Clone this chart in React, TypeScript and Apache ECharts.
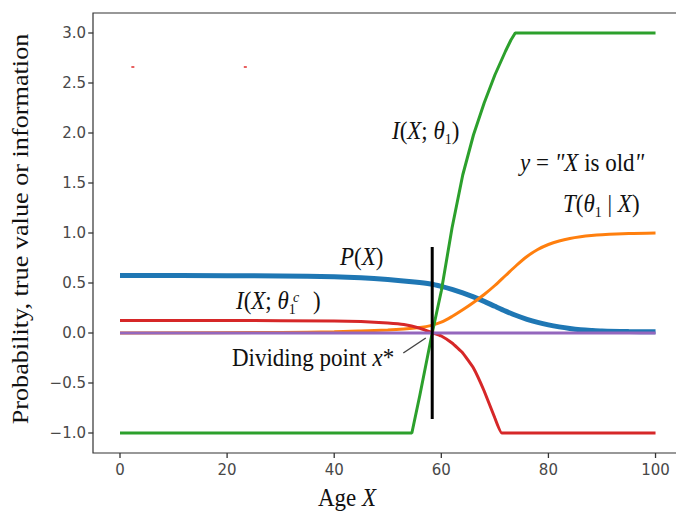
import React, { useEffect, useRef } from "react";
import * as echarts from "echarts";

// ---- data ----
const xTicks = [0, 20, 40, 60, 80, 100];
const yTicks = [-1, -0.5, 0, 0.5, 1, 1.5, 2, 2.5, 3];
const xTickStep = 20;
const yTickStep = 0.5;

// P(X)  (blue)
const pAges = [0, 20, 30, 40, 45, 50, 55, 58, 60, 62, 64, 66, 68, 70, 72, 74, 76, 78, 80, 82, 84, 86, 88, 90, 95, 100];
const pValues = [0.575, 0.573, 0.57, 0.563, 0.553, 0.535, 0.51, 0.49, 0.466, 0.436, 0.401, 0.361, 0.316, 0.267, 0.219, 0.175, 0.137, 0.106, 0.081, 0.061, 0.045, 0.033, 0.025, 0.019, 0.014, 0.012];

// T(theta1 | X)  (orange)
const tAges = [0, 30, 40, 45, 50, 53, 56, 58, 60, 62, 64, 66, 68, 70, 72, 74, 76, 78, 80, 82, 84, 86, 88, 90, 95, 100];
const tValues = [0.0, 0.005, 0.012, 0.02, 0.03, 0.04, 0.056, 0.074, 0.108, 0.165, 0.232, 0.305, 0.385, 0.475, 0.575, 0.675, 0.765, 0.835, 0.885, 0.92, 0.945, 0.962, 0.974, 0.982, 0.994, 1.0];

// I(X; theta1)  (green)
const iAges = [0, 54.5, 56, 58.3, 60, 62, 64, 66, 68, 70, 72, 73, 73.8, 100];
const iValues = [-1, -1, -0.62, 0, 0.42, 1.05, 1.58, 1.98, 2.3, 2.58, 2.82, 2.93, 3.0, 3.0];

// I(X; theta1^c)  (red)
const icAges = [0, 20, 40, 45, 50, 53, 56, 58.5, 60, 62, 64, 66, 68, 70, 71.3, 100];
const icValues = [0.125, 0.125, 0.12, 0.115, 0.1, 0.085, 0.048, 0.0, -0.03, -0.1, -0.2, -0.35, -0.58, -0.85, -1.0, -1.0];

// zero line (purple)
const zeroAges = [0, 100];
const zeroValues = [0, 0];

// dividing point x*
const dividerAges = [58.3, 58.3];
const dividerValues = [-0.86, 0.86];
const leaderAges = [52.9, 57.1];
const leaderValues = [-0.2, -0.05];

// stray red marks
const strayAges = [2.4, 23.4];
const strayValues = [2.66, 2.66];

// frame limits (matplotlib-style margins around the data)
const frameXMin = -5;
const frameYMin = -1.2;

const zip = (xs: number[], ys: number[]) => xs.map((x, i) => [x, ys[i]]);

const SERIF = "'Liberation Serif', 'Times New Roman', serif";
const FS = 23;
const STRETCH = 1.1;
const TICK_LEN = 5;

const richStyles = {
  i: { fontFamily: SERIF, fontSize: FS, fontStyle: "italic", fill: "#111", lineHeight: 30 },
  n: { fontFamily: SERIF, fontSize: FS, fill: "#111", lineHeight: 30 },
  s: { fontFamily: SERIF, fontSize: 14, fill: "#111", lineHeight: 12, verticalAlign: "bottom" },
};

function richText(id: string, x: number, y: number, text: string, extra: any = {}) {
  return {
    type: "text",
    id,
    x,
    y,
    scaleY: STRETCH,
    z: 100,
    style: {
      text,
      rich: richStyles,
      fill: "#111",
      font: `${FS}px ${SERIF}`,
      textAlign: "left",
      textVerticalAlign: "middle",
      ...extra,
    },
  };
}

const tickFont = {
  fontFamily: "'DejaVu Sans', sans-serif",
  fontSize: 15,
  color: "#484848",
};

export default function App() {
  const ref = useRef<HTMLDivElement>(null);

  useEffect(() => {
    if (!ref.current) return;
    const chart = echarts.init(ref.current, undefined, { renderer: "svg" });

    const lineBase = { type: "line", showSymbol: false, clip: false };

    const option: any = {
      animation: false,
      backgroundColor: "#fff",
      grid: {
        left: 120,
        top: 33,
        width: 562.3,
        height: 400,
        outerBoundsMode: "none",
        containLabel: false,
      },
      xAxis: {
        type: "value",
        min: 0,
        max: 105,
        interval: xTickStep,
        offset: 20,
        splitLine: { show: false },
        axisLine: { show: false, onZero: false },
        axisTick: { show: false },
        axisLabel: {
          ...tickFont,
          showMaxLabel: false,
          formatter: (v: number) => (v % xTickStep === 0 ? String(v) : ""),
          margin: 9,
        },
      },
      yAxis: {
        type: "value",
        min: -1,
        max: 3,
        interval: yTickStep,
        offset: 27,
        splitLine: { show: false },
        axisLine: { show: false, onZero: false },
        axisTick: { show: false },
        axisLabel: {
          ...tickFont,
          formatter: (v: number) => (v < 0 ? "\u2212" : "") + Math.abs(v).toFixed(1),
          margin: 7,
        },
      },
      series: [
        {
          ...lineBase,
          name: "P(X)",
          data: zip(pAges, pValues),
          smooth: 0.3,
          lineStyle: { color: "#1f77b4", width: 5 },
          z: 2,
        },
        {
          ...lineBase,
          name: "T(θ1|X)",
          data: zip(tAges, tValues),
          smooth: 0.3,
          lineStyle: { color: "#ff7f0e", width: 3 },
          z: 3,
        },
        {
          ...lineBase,
          name: "I(X;θ1)",
          data: zip(iAges, iValues),
          lineStyle: { color: "#2ca02c", width: 3 },
          z: 4,
        },
        {
          ...lineBase,
          name: "I(X;θ1c)",
          data: zip(icAges, icValues),
          smooth: 0.1,
          lineStyle: { color: "#d62728", width: 3 },
          z: 5,
        },
        {
          ...lineBase,
          name: "zero",
          data: zip(zeroAges, zeroValues),
          lineStyle: { color: "#9467bd", width: 3 },
          z: 6,
        },
        {
          ...lineBase,
          name: "divider",
          data: zip(dividerAges, dividerValues),
          lineStyle: { color: "#000", width: 3 },
          z: 7,
        },
        {
          ...lineBase,
          name: "leader",
          data: zip(leaderAges, leaderValues),
          lineStyle: { color: "#444", width: 1.5 },
          z: 7,
        },
        {
          name: "stray",
          type: "scatter",
          data: zip(strayAges, strayValues),
          symbol: "rect",
          symbolSize: [3, 2],
          itemStyle: { color: "#e23a3a" },
          z: 8,
        },
      ],
      graphic: [
        {
          type: "rect",
          id: "frame",
          z: 50,
          silent: true,
          shape: { x: 93, y: 13, width: 589, height: 440 },
          style: { fill: "transparent", stroke: "#333", lineWidth: 1.2 },
        },
        richText("lblI", 392, 130, "{i|I}{n|(}{i|X}{n|; }{i|θ}{s|1}{n|)}"),
        richText("lblY", 520, 162, "{i|y}{n| = }{i|\"X}{n| is old}{i|\"}"),
        richText("lblT", 563, 203, "{i|T}{n|(}{i|θ}{s|1}{n| | }{i|X}{n|)}"),
        richText("lblP", 340, 256, "{i|P}{n|(}{i|X}{n|)}"),
        richText("lblIc", 236, 300, "{i|I}{n|(}{i|X}{n|; }{i|θ}{s|1}{n|   )}"),
        {
          type: "text",
          id: "lblIcSup",
          x: 293,
          y: 297,
          z: 100,
          style: {
            text: "c",
            font: `italic 14px ${SERIF}`,
            fill: "#111",
            textAlign: "left",
            textVerticalAlign: "middle",
          },
        },
        richText("lblDiv", 232, 357, "{n|Dividing point }{i|x}{n|*}"),
        {
          type: "text",
          id: "yTitle",
          x: 20,
          y: 229,
          rotation: Math.PI / 2,
          scaleX: 1.14,
          z: 100,
          style: {
            text: "Probability, true value or information",
            font: `${FS}px ${SERIF}`,
            fill: "#111",
            textAlign: "center",
            textVerticalAlign: "middle",
          },
        },
        richText("xTitle", 318, 497, "{n|Age }{i|X}"),
      ],
    };

    chart.setOption(option);

    // tick marks placed through the chart's own scales
    const ticks: any[] = [];
    xTicks.forEach((v, k) => {
      const p = chart.convertToPixel({ gridIndex: 0 }, [v, frameYMin]) as number[];
      if (!p) return;
      ticks.push({
        type: "line",
        id: "xt" + k,
        z: 60,
        silent: true,
        shape: { x1: p[0], y1: p[1], x2: p[0], y2: p[1] + TICK_LEN },
        style: { stroke: "#333", lineWidth: 1.3 },
      });
    });
    yTicks.forEach((v, k) => {
      const p = chart.convertToPixel({ gridIndex: 0 }, [frameXMin, v]) as number[];
      if (!p) return;
      ticks.push({
        type: "line",
        id: "yt" + k,
        z: 60,
        silent: true,
        shape: { x1: p[0] - TICK_LEN, y1: p[1], x2: p[0], y2: p[1] },
        style: { stroke: "#333", lineWidth: 1.3 },
      });
    });
    chart.setOption({ graphic: ticks });

    return () => chart.dispose();
  }, []);

  return (
    <div
      ref={ref}
      style={{ position: "absolute", left: 0, top: 0, width: 676, height: 513, background: "#fff" }}
    />
  );
}
